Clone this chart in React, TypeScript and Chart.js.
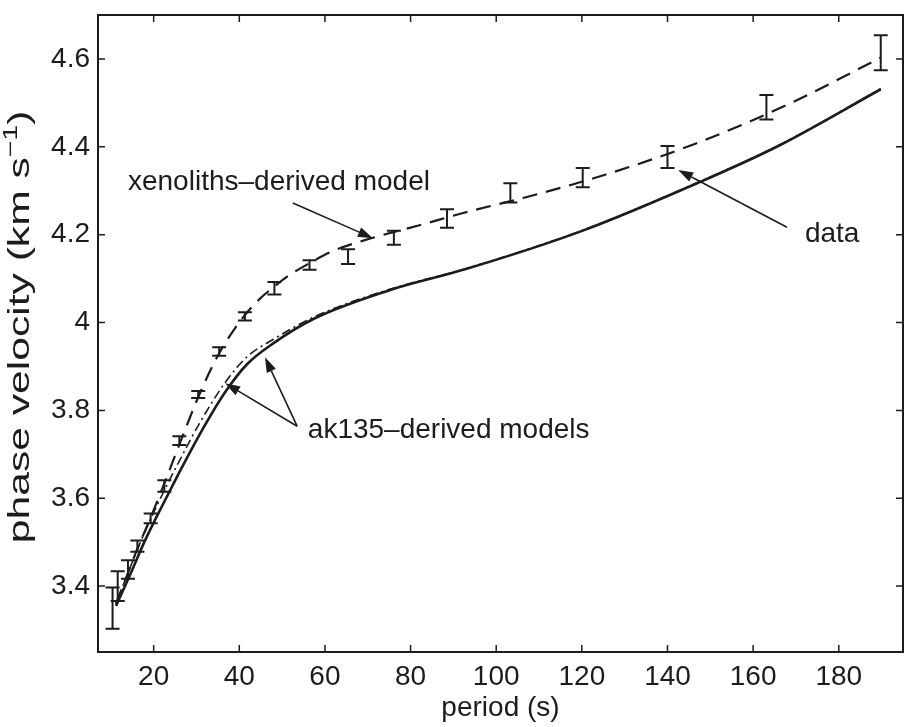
import React, { useEffect, useRef } from "react";
import { Chart, registerables } from "chart.js";

Chart.register(...registerables);

// ---- observed dispersion data (period s, phase velocity km/s, half error) ----
const dataPeriods = [10.4, 11.6, 14.0, 16.2, 19.3, 22.5, 26.0, 30.4, 35.3, 41.3, 48.2, 56.4, 65.4, 76.1, 88.5, 103.3, 120.2, 140.0, 163.1, 189.8];
const dataVelocity = [3.35, 3.40, 3.438, 3.491, 3.554, 3.628, 3.731, 3.836, 3.934, 4.014, 4.078, 4.131, 4.150, 4.193, 4.237, 4.295, 4.330, 4.377, 4.490, 4.614];
const dataError = [0.047, 0.034, 0.021, 0.013, 0.011, 0.013, 0.010, 0.008, 0.0095, 0.0095, 0.014, 0.011, 0.017, 0.016, 0.021, 0.022, 0.022, 0.025, 0.028, 0.040];

// ---- xenoliths-derived model (dashed) ----
const xenoPeriods = [11.2, 14.0, 16.2, 19.3, 22.5, 26.0, 30.4, 35.3, 41.3, 44.9, 48.2, 51.7, 56.4, 61.7, 70.2, 82.3, 92.5, 106.5, 125.6, 146.5, 168.9, 189.8];
const xenoVelocity = [3.36, 3.43, 3.485, 3.556, 3.634, 3.722, 3.830, 3.930, 4.017, 4.055, 4.082, 4.108, 4.135, 4.162, 4.19, 4.222, 4.25, 4.284, 4.337, 4.407, 4.50, 4.603];

// ---- ak135-derived model 1 (solid) ----
const akSolidPeriods = [11.2, 14.0, 18.0, 22.0, 25.9, 30.5, 36.6, 41.8, 48.0, 57.3, 74.9, 92.7, 119.9, 146.9, 166.1, 189.8];
const akSolidVelocity = [3.355, 3.415, 3.504, 3.583, 3.657, 3.741, 3.84, 3.905, 3.953, 4.008, 4.073, 4.121, 4.208, 4.317, 4.403, 4.531];

// ---- ak135-derived model 2 (dash-dot) ----
const akDashDotPeriods = [11.2, 14.0, 18.0, 22.0, 25.9, 30.5, 36.6, 41.8, 48.0, 57.3, 74.9, 92.7, 119.9, 146.9, 166.1, 189.8];
const akDashDotVelocity = [3.36, 3.43, 3.525, 3.608, 3.683, 3.767, 3.862, 3.922, 3.962, 4.012, 4.075, 4.122, 4.209, 4.318, 4.404, 4.532];

// ---- axes ----
const xTicks = [20, 40, 60, 80, 100, 120, 140, 160, 180];
const yTicks = [3.4, 3.6, 3.8, 4.0, 4.2, 4.4, 4.6];
const xRange = [7, 195];
const yRange = [3.25, 4.7];

// ---- annotations (data units) ----
const labelTexts = ["xenoliths\u2013derived model", "ak135\u2013derived models", "data"];
const labelAnchors = [
  [14.0, 4.302],
  [56.0, 3.737],
  [172.1, 4.183],
];
const arrowTails = [
  [52.5, 4.272],
  [53.5, 3.764],
  [53.5, 3.764],
  [167.9, 4.217],
];
const arrowTips = [
  [71.2, 4.192],
  [36.7, 3.862],
  [46.0, 3.921],
  [142.5, 4.347],
];

const INK = "#1c1c1c";
const FONT = "'Liberation Sans', Arial, Helvetica, sans-serif";

const zip = (xs: number[], ys: number[]) => xs.map((x, i) => ({ x, y: ys[i] }));

const errorBarPlugin = {
  id: "errorBars",
  afterDatasetsDraw(chart: any) {
    const { ctx, scales } = chart;
    const xs = scales.x;
    const ys = scales.y;
    ctx.save();
    ctx.strokeStyle = INK;
    ctx.lineWidth = 2;
    ctx.setLineDash([]);
    const cap = 7;
    dataPeriods.forEach((p, i) => {
      const px = xs.getPixelForValue(p);
      const top = ys.getPixelForValue(dataVelocity[i] + dataError[i]);
      const bot = ys.getPixelForValue(dataVelocity[i] - dataError[i]);
      ctx.beginPath();
      ctx.moveTo(px, top);
      ctx.lineTo(px, bot);
      ctx.moveTo(px - cap, top);
      ctx.lineTo(px + cap, top);
      ctx.moveTo(px - cap, bot);
      ctx.lineTo(px + cap, bot);
      ctx.stroke();
    });
    ctx.restore();
  },
};

const framePlugin = {
  id: "frame",
  afterDraw(chart: any) {
    const { ctx, chartArea, scales } = chart;
    const { left, right, top, bottom } = chartArea;
    ctx.save();
    ctx.strokeStyle = INK;
    ctx.setLineDash([]);
    ctx.lineWidth = 2;
    ctx.strokeRect(left, top, right - left, bottom - top);
    ctx.lineWidth = 1.5;
    const tl = 7;
    ctx.beginPath();
    xTicks.forEach((v) => {
      const px = scales.x.getPixelForValue(v);
      ctx.moveTo(px, bottom);
      ctx.lineTo(px, bottom - tl);
      ctx.moveTo(px, top);
      ctx.lineTo(px, top + tl);
    });
    yTicks.forEach((v) => {
      const py = scales.y.getPixelForValue(v);
      ctx.moveTo(left, py);
      ctx.lineTo(left + tl, py);
      ctx.moveTo(right, py);
      ctx.lineTo(right - tl, py);
    });
    ctx.stroke();

    // y-axis title with superscript (rotated)
    const cy = scales.y.getPixelForValue(3.99);
    ctx.fillStyle = INK;
    ctx.translate(29, cy);
    ctx.rotate(-Math.PI / 2);
    ctx.scale(1.42, 1);
    const main = "phase velocity (km s";
    const sup = "\u22121";
    const close = ")";
    const big = 30;
    const small = 20;
    ctx.font = `${big}px ${FONT}`;
    const wMain = ctx.measureText(main).width;
    const wClose = ctx.measureText(close).width;
    ctx.font = `${small}px ${FONT}`;
    const wSup = ctx.measureText(sup).width;
    const total = wMain + wSup + wClose;
    let x0 = -total / 2;
    ctx.textBaseline = "alphabetic";
    ctx.textAlign = "left";
    ctx.font = `${big}px ${FONT}`;
    ctx.fillText(main, x0, 0);
    x0 += wMain;
    ctx.font = `${small}px ${FONT}`;
    ctx.fillText(sup, x0, -12);
    x0 += wSup;
    ctx.font = `${big}px ${FONT}`;
    ctx.fillText(close, x0, 0);
    ctx.restore();
  },
};

const annotationPlugin = {
  id: "annotations",
  afterDraw(chart: any) {
    const { ctx, scales } = chart;
    const X = (v: number) => scales.x.getPixelForValue(v);
    const Y = (v: number) => scales.y.getPixelForValue(v);
    ctx.save();
    ctx.fillStyle = INK;
    ctx.strokeStyle = INK;
    ctx.font = `28px ${FONT}`;
    ctx.textAlign = "left";
    ctx.textBaseline = "alphabetic";
    labelTexts.forEach((t, i) => {
      ctx.fillText(t, X(labelAnchors[i][0]), Y(labelAnchors[i][1]));
    });
    ctx.lineWidth = 1.6;
    ctx.setLineDash([]);
    arrowTails.forEach((tail, i) => {
      const x1 = X(tail[0]);
      const y1 = Y(tail[1]);
      const x2 = X(arrowTips[i][0]);
      const y2 = Y(arrowTips[i][1]);
      const ang = Math.atan2(y2 - y1, x2 - x1);
      const hl = 15;
      const hw = 5;
      const bx = x2 - hl * Math.cos(ang);
      const by = y2 - hl * Math.sin(ang);
      ctx.beginPath();
      ctx.moveTo(x1, y1);
      ctx.lineTo(bx, by);
      ctx.stroke();
      ctx.beginPath();
      ctx.moveTo(x2, y2);
      ctx.lineTo(bx + hw * Math.sin(ang), by - hw * Math.cos(ang));
      ctx.lineTo(bx - hw * Math.sin(ang), by + hw * Math.cos(ang));
      ctx.closePath();
      ctx.fill();
    });
    ctx.restore();
  },
};

export default function App() {
  const canvasRef = useRef<HTMLCanvasElement | null>(null);

  useEffect(() => {
    if (!canvasRef.current) return;
    const chart = new Chart(canvasRef.current, {
      type: "line",
      data: {
        datasets: [
          {
            label: "xenoliths-derived model",
            data: zip(xenoPeriods, xenoVelocity),
            borderColor: INK,
            borderWidth: 2.2,
            borderDash: [15, 9],
            pointRadius: 0,
            fill: false,
            cubicInterpolationMode: "monotone",
          },
          {
            label: "ak135-derived model (solid)",
            data: zip(akSolidPeriods, akSolidVelocity),
            borderColor: INK,
            borderWidth: 2.6,
            pointRadius: 0,
            fill: false,
            cubicInterpolationMode: "monotone",
          },
          {
            label: "ak135-derived model (dash-dot)",
            data: zip(akDashDotPeriods, akDashDotVelocity),
            borderColor: INK,
            borderWidth: 1.6,
            borderDash: [9, 4, 2, 4],
            pointRadius: 0,
            fill: false,
            cubicInterpolationMode: "monotone",
          },
          {
            label: "data",
            data: zip(dataPeriods, dataVelocity),
            showLine: false,
            pointRadius: 0,
            borderColor: INK,
          },
        ],
      },
      options: {
        animation: false,
        responsive: true,
        maintainAspectRatio: false,
        layout: { padding: { top: 15, right: 3, left: 0, bottom: 0 } },
        plugins: {
          legend: { display: false },
          tooltip: { enabled: false },
        },
        scales: {
          x: {
            type: "linear",
            min: xRange[0],
            max: xRange[1],
            grid: { display: false, drawTicks: false },
            border: { display: false },
            afterBuildTicks: (scale: any) => {
              scale.ticks = xTicks.map((v) => ({ value: v }));
            },
            afterFit: (scale: any) => {
              scale.height = 75;
              scale.paddingLeft = 0;
              scale.paddingRight = 0;
            },
            ticks: {
              color: INK,
              padding: 8,
              maxRotation: 0,
              autoSkip: false,
              font: { family: FONT, size: 28 },
              callback: (v: any) => String(Math.round(Number(v))),
            },
            title: {
              display: true,
              text: "period (s)",
              color: INK,
              font: { family: FONT, size: 28 },
              padding: { top: 0, bottom: 2 },
            },
          },
          y: {
            type: "linear",
            min: yRange[0],
            max: yRange[1],
            grid: { display: false, drawTicks: false },
            border: { display: false },
            afterBuildTicks: (scale: any) => {
              scale.ticks = yTicks.map((v) => ({ value: v }));
            },
            afterFit: (scale: any) => {
              scale.width = 98;
              scale.paddingTop = 0;
              scale.paddingBottom = 0;
            },
            ticks: {
              color: INK,
              padding: 8,
              autoSkip: false,
              font: { family: FONT, size: 28 },
              callback: (v: any) => String(Math.round(Number(v) * 10) / 10),
            },
          },
        },
      },
      plugins: [errorBarPlugin, framePlugin, annotationPlugin],
    } as any);
    return () => chart.destroy();
  }, []);

  return (
    <div style={{ position: "absolute", left: 0, top: 0, width: 906, height: 727, background: "#fff" }}>
      <canvas ref={canvasRef} />
    </div>
  );
}
